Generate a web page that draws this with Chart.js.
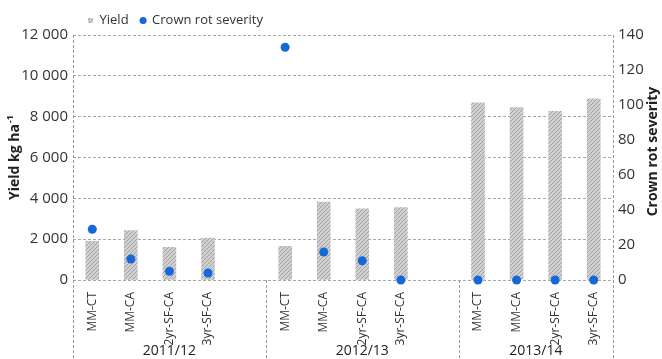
<!DOCTYPE html>
<html>
<head>
<meta charset="utf-8">
<script src="https://cdn.jsdelivr.net/npm/chart.js@4"></script>
<style>
  html, body { margin: 0; padding: 0; background: #fff; }
  #wrap { width: 662px; height: 359px; }
</style>
</head>
<body>
<div id="wrap"><canvas id="chart"></canvas></div>
<script>
// treatments within each season, season names
const treatments = ['MM-CT', 'MM-CA', '2yr-SF-CA', '3yr-SF-CA'];
const seasons = ['2011/12', '2012/13', '2013/14'];

// yield (kg/ha)
const yield1112 = [1900, 2420, 1600, 2050];
const yield1213 = [1650, 3820, 3480, 3550];
const yield1314 = [8680, 8450, 8260, 8870];

// crown rot severity
const severity1112 = [29, 12, 5, 4];
const severity1213 = [133, 16, 11, 0];
const severity1314 = [0, 0, 0, 0];

// axis ranges
const yieldMax = 12000, yieldStep = 2000;
const severityMax = 140, severityStep = 20;

// one empty slot between seasons
const labels = [...treatments, '', ...treatments, '', ...treatments];
const yieldData = [...yield1112, null, ...yield1213, null, ...yield1314];
const severityData = [...severity1112, null, ...severity1213, null, ...severity1314];

Chart.defaults.font.family = "'Open Sans', 'Noto Sans', sans-serif";
Chart.defaults.color = '#333';

function hatch() {
  const c = document.createElement('canvas');
  c.width = 4; c.height = 4;
  const g = c.getContext('2d');
  g.fillStyle = '#d0d0d0';
  g.fillRect(0, 0, 4, 4);
  g.strokeStyle = '#a2a2a2';
  g.lineWidth = 1;
  g.beginPath();
  g.moveTo(0, 4); g.lineTo(4, 0);
  g.moveTo(-1, 1); g.lineTo(1, -1);
  g.moveTo(3, 5); g.lineTo(5, 3);
  g.stroke();
  return g.createPattern(c, 'repeat');
}

const fmt = v => String(v).replace(/\B(?=(\d{3})+(?!\d))/g, ' ');

// dashed frame lines, season separators, season names, axis titles
const seasonFrame = {
  id: 'seasonFrame',
  afterLayout(chart) {
    const lg = chart.legend;
    lg.left = 88 - lg.options.labels.padding;
    lg.top += 2;
  },
  beforeDatasetsDraw(chart) {
    const { ctx, chartArea: a, scales: { x } } = chart;
    const s1 = (x.getPixelForValue(4) + x.getPixelForValue(5)) / 2;
    const s2 = (x.getPixelForValue(9) + x.getPixelForValue(10)) / 2;
    ctx.save();
    ctx.strokeStyle = '#9a9a9a';
    ctx.lineWidth = 1;
    ctx.setLineDash([3, 2]);
    ctx.beginPath();
    ctx.moveTo(Math.round(a.left) + 0.5, a.top);
    ctx.lineTo(Math.round(a.left) + 0.5, chart.height);
    ctx.moveTo(Math.round(a.right) + 0.5, a.top);
    ctx.lineTo(Math.round(a.right) + 0.5, chart.height);
    [s1, s2].forEach(p => {
      ctx.moveTo(Math.round(p) + 0.5, a.bottom);
      ctx.lineTo(Math.round(p) + 0.5, chart.height);
    });
    ctx.stroke();
    ctx.restore();
  },
  afterDraw(chart) {
    const { ctx, chartArea: a, scales: { x } } = chart;
    const s1 = (x.getPixelForValue(4) + x.getPixelForValue(5)) / 2;
    const s2 = (x.getPixelForValue(9) + x.getPixelForValue(10)) / 2;
    const bounds = [a.left, s1, s2, a.right];
    ctx.save();
    ctx.fillStyle = '#222';
    ctx.font = "14px 'Open Sans', sans-serif";
    ctx.textAlign = 'center';
    ctx.textBaseline = 'middle';
    seasons.forEach((s, i) => {
      ctx.fillText(s, (bounds[i] + bounds[i + 1]) / 2, 351);
    });
    ctx.restore();

    // right axis title, reading upwards
    ctx.save();
    ctx.fillStyle = '#222';
    ctx.textAlign = 'center';
    ctx.textBaseline = 'middle';
    ctx.translate(653, (a.top + a.bottom) / 2 - 6);
    ctx.rotate(-Math.PI / 2);
    ctx.font = "bold 14px 'Open Sans', sans-serif";
    ctx.fillText('Crown rot severity', 0, 0);
    ctx.restore();

    // left axis title with superscript
    ctx.save();
    ctx.fillStyle = '#222';
    ctx.textAlign = 'left';
    ctx.textBaseline = 'middle';
    ctx.translate(15, (a.top + a.bottom) / 2);
    ctx.rotate(-Math.PI / 2);
    const main = 'Yield kg ha', sup = '-1';
    ctx.font = "bold 14px 'Open Sans', sans-serif";
    const w1 = ctx.measureText(main).width;
    ctx.font = "bold 9px 'Open Sans', sans-serif";
    const w2 = ctx.measureText(sup).width;
    const x0 = -(w1 + w2 + 1) / 2;
    ctx.font = "bold 14px 'Open Sans', sans-serif";
    ctx.fillText(main, x0, 0);
    ctx.font = "bold 9px 'Open Sans', sans-serif";
    ctx.fillText(sup, x0 + w1 + 1, -5);
    ctx.restore();
  }
};

const ctx = document.getElementById('chart');
new Chart(ctx, {
  data: {
    labels: labels,
    datasets: [
      {
        type: 'line',
        label: 'Crown rot severity',
        data: severityData,
        yAxisID: 'y1',
        showLine: false,
        pointRadius: 4.5,
        pointHoverRadius: 4.5,
        pointStyle: 'circle',
        backgroundColor: '#1668d9',
        borderColor: '#1668d9',
        borderWidth: 0,
        clip: false
      },
      {
        type: 'bar',
        label: 'Yield',
        data: yieldData,
        yAxisID: 'y',
        backgroundColor: hatch(),
        borderWidth: 0,
        barThickness: 13,
        pointStyle: 'rect'
      }
    ]
  },
  options: {
    responsive: true,
    maintainAspectRatio: false,
    animation: false,
    layout: { padding: 0 },
    plugins: {
      legend: {
        position: 'top',
        align: 'start',
        reverse: true,
        labels: {
          usePointStyle: true,
          boxWidth: 5,
          boxHeight: 5,
          padding: 12,
          color: '#333',
          font: { size: 13 }
        }
      },
      tooltip: { enabled: false }
    },
    scales: {
      x: {
        grid: { display: false },
        border: { display: false },
        ticks: {
          autoSkip: false,
          minRotation: 90,
          maxRotation: 90,
          padding: 4,
          color: '#333',
          font: { size: 12 }
        },
        afterFit(s) { s.height = 79; }
      },
      y: {
        position: 'left',
        min: 0,
        max: yieldMax,
        ticks: {
          stepSize: yieldStep,
          padding: 5,
          color: '#333',
          font: { size: 15 },
          callback: v => fmt(v)
        },
        grid: { color: '#a8a8a8', drawTicks: false },
        border: { display: false, dash: [3, 2] },
        afterFit(s) { s.width = 73; }
      },
      y1: {
        position: 'right',
        min: 0,
        max: severityMax,
        ticks: {
          stepSize: severityStep,
          padding: 5,
          color: '#333',
          font: { size: 15 }
        },
        grid: { drawOnChartArea: false, drawTicks: false },
        border: { display: false },
        afterFit(s) { s.width = 49; }
      }
    }
  },
  plugins: [seasonFrame]
});
</script>
</body>
</html>
